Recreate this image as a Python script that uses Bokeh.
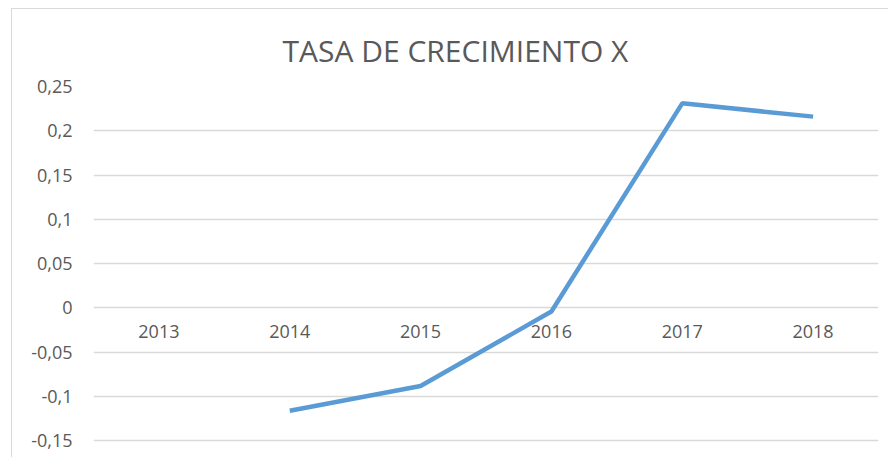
import math
from bokeh.plotting import figure
from bokeh.models import FixedTicker, Range1d
from bokeh.embed import file_html
from bokeh.resources import INLINE

years = ["2013", "2014", "2015", "2016", "2017", "2018"]
tasa = [math.nan, -0.116, -0.088, -0.004, 0.231, 0.216]
y_ticks = [-0.15, -0.1, -0.05, 0, 0.05, 0.1, 0.15, 0.2, 0.25]
y_tick_labels = ["-0,15", "-0,1", "-0,05", "0", "0,05", "0,1", "0,15", "0,2", "0,25"]

FONT = "Open Sans"
GRAY = "#595959"

p = figure(width=877, height=449, x_range=years, y_range=Range1d(-0.1699, 0.25),
           output_backend="svg", toolbar_location=None,
           min_border_left=81, min_border_right=11, min_border_top=77, min_border_bottom=0,
           title="TASA DE CRECIMIENTO X")
p.styles = {"border-top": "1px solid #d9d9d9", "border-left": "1px solid #d9d9d9",
            "margin-left": "11px", "margin-top": "8px"}

p.title.align = "left"
p.title.text_font = FONT
p.title.text_font_size = "30px"
p.title.text_font_style = "normal"
p.title.text_color = GRAY
p.title.offset = 189
p.title.standoff = 32

p.line(x=years, y=tasa, line_color="#5B9BD5", line_width=4.5)

p.outline_line_color = None
p.xgrid.grid_line_color = None
p.ygrid.grid_line_color = "#d9d9d9"
p.ygrid.grid_line_width = 1.3
p.ygrid.ticker = FixedTicker(ticks=y_ticks)

p.yaxis.ticker = FixedTicker(ticks=y_ticks)
p.yaxis.major_label_overrides = dict(zip(y_ticks, y_tick_labels))
p.yaxis.axis_line_color = None
p.yaxis.major_tick_line_color = None
p.yaxis.minor_tick_line_color = None
p.yaxis.major_tick_out = 0
p.yaxis.minor_tick_out = 0
p.yaxis.major_label_standoff = 21
p.yaxis.major_label_text_font = FONT
p.yaxis.major_label_text_font_size = "18px"
p.yaxis.major_label_text_color = GRAY

p.xaxis.fixed_location = 0
p.xaxis.axis_line_color = None
p.xaxis.major_tick_line_color = None
p.xaxis.major_tick_out = 0
p.xaxis.minor_tick_out = 0
p.xaxis.major_label_standoff = 17
p.xaxis.major_label_text_font = FONT
p.xaxis.major_label_text_font_size = "18px"
p.xaxis.major_label_text_color = GRAY

open("out.html", "w").write(file_html(p, INLINE))
